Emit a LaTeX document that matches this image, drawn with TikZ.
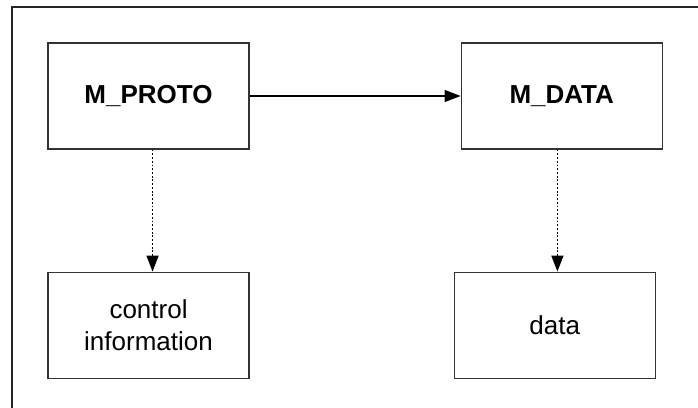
\documentclass[tikz,border=0pt]{standalone}
\usepackage{fontspec}
\setmainfont{Liberation Sans}
\usetikzlibrary{positioning,arrows.meta}

\tikzset{
    block/.style={draw=black!80, line width=0.9pt, minimum width=150.75pt,
        minimum height=79.5pt, align=center, font=\fontsize{19.5}{24}\selectfont},
    link/.style={line width=0.9pt, -{Triangle[length=12pt,width=9pt]}},
    dots/.style={line width=1.1pt, dash pattern=on 1.4pt off 1.4pt},
}

\begin{document}
\begin{tikzpicture}
    \useasboundingbox (-111.4pt,-233.25pt) rectangle (412.1pt,72pt);

    \node[block]                                             (proto) {\bfseries M\_PROTO};
    \node[block, right=158.25pt of proto]                    (mdata) {\bfseries M\_DATA};
    \node[block, below=91.5pt of proto]                      (ctrl)  {control\\information};
    \node[block, below=91.5pt of mdata, xshift=-5.25pt]      (data)  {data};

    \coordinate (bl) at (-102.4pt,-240pt);
    \coordinate (tl) at (-102.4pt,66.75pt);
    \coordinate (tr) at (420pt,66.75pt);
    \draw[line width=0.9pt, black!85] (bl) -- (tl) -- (tr);

    \draw[link] (proto) -- (mdata);
    \draw[link, dots] ([xshift=3pt]proto.south) -- ([xshift=3pt]ctrl.north);
    \draw[link, dots] ([xshift=2pt]mdata.south -| data.north) -- ([xshift=2pt]data.north);
\end{tikzpicture}
\end{document}
